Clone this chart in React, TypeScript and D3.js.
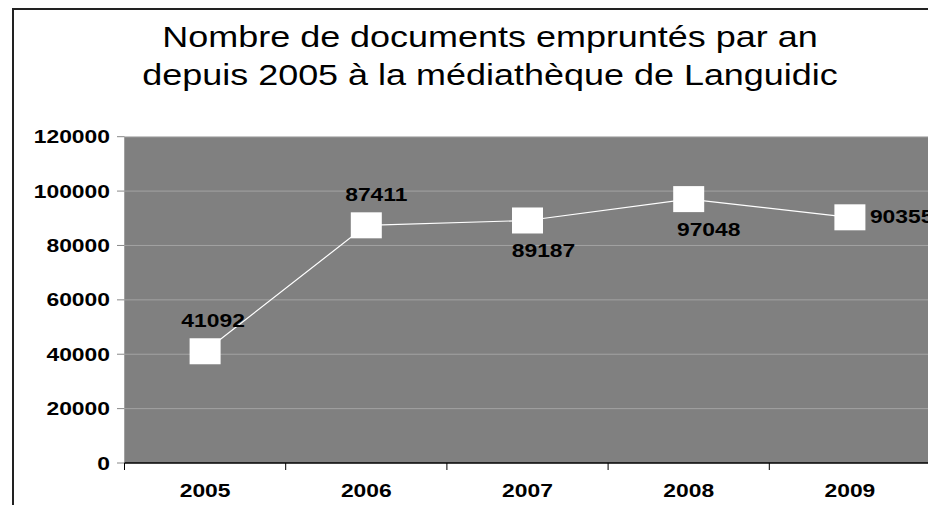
import React from "react";
import * as d3 from "d3";

const years = ["2005", "2006", "2007", "2008", "2009"];
const loans = [41092, 87411, 89187, 97048, 90355];
const yTicks = [0, 20000, 40000, 60000, 80000, 100000, 120000];
const labelPlacement = ["above", "above", "below", "below", "right"];
const labelShift = [8, 10, 16, 20, 0];
const titleLines = [
  "Nombre de documents empruntés par an",
  "depuis 2005 à la médiathèque de Languidic",
];

const W = 928;
const H = 505;
const FONT = "'Liberation Sans', Arial, sans-serif";
const SX = 1.27;

export default function App() {
  const left = 124.5;
  const right = left + 161.2 * years.length;
  const top = 136.7;
  const bottom = 463;

  const x = d3.scaleBand<string>().domain(years).range([left, right]).padding(0);
  const y = d3.scaleLinear().domain([0, 120000]).range([bottom, top]);
  const cx = (i: number) => (x(years[i]) as number) + x.bandwidth() / 2;

  const line = d3
    .line<number>()
    .x((_, i) => cx(i))
    .y((d) => y(d));

  const stretched = (
    tx: number,
    ty: number,
    txt: string,
    size: number,
    anchor: string,
    weight: string,
    sx: number = SX,
    key?: string
  ) => (
    <text
      key={key}
      transform={`translate(${tx},${ty}) scale(${sx},1)`}
      textAnchor={anchor as any}
      fontFamily={FONT}
      fontSize={size}
      fontWeight={weight}
      fill="#000"
    >
      {txt}
    </text>
  );

  return (
    <svg
      width={W}
      height={H}
      style={{ position: "absolute", left: 0, top: 0, background: "#fff" }}
    >
      <rect x={13} y={9} width={W} height={H} fill="#fff" stroke="#222" strokeWidth={2} />
      {titleLines.map((t, i) =>
        stretched(490, 46.7 + i * 38.5, t, 29, "middle", "normal", 1.24, "t" + i)
      )}
      <defs>
        <clipPath id="clip">
          <rect x={0} y={0} width={W} height={H} />
        </clipPath>
      </defs>
      <rect x={left} y={top} width={right - left} height={bottom - top} fill="#808080" />
      {yTicks.map((t) => (
        <g key={t}>
          {t > 0 && (
            <line
              x1={left}
              x2={right}
              y1={y(t)}
              y2={y(t)}
              stroke={t === 120000 ? "#c4c4c4" : "#a2a2a2"}
              strokeWidth={1}
            />
          )}
          <line x1={117} x2={left} y1={y(t)} y2={y(t)} stroke="#888" strokeWidth={1} />
          {stretched(110, y(t) + 6.5, String(t), 18, "end", "bold", SX, "yl" + t)}
        </g>
      ))}
      <line x1={left} x2={left} y1={top} y2={bottom} stroke="#a0a0a0" strokeWidth={1} />
      <line x1={left} x2={right} y1={bottom} y2={bottom} stroke="#000" strokeWidth={1.5} />
      {d3.range(years.length + 1).map((i) => {
        const tx = left + x.step() * i;
        return <line key={"xt" + i} x1={tx} x2={tx} y1={bottom} y2={bottom + 7} stroke="#000" strokeWidth={1} />;
      })}
      {years.map((yr, i) => stretched(cx(i), 496.5, yr, 18, "middle", "bold", SX, "xl" + yr))}
      <path d={line(loans) || ""} fill="none" stroke="#fff" strokeWidth={1.2} />
      {loans.map((v, i) => (
        <rect key={"m" + i} x={cx(i) - 15.5} y={y(v) - 13} width={31} height={26} fill="#fff" />
      ))}
      {loans.map((v, i) => {
        const p = labelPlacement[i];
        if (p === "above") return stretched(cx(i) + labelShift[i], y(v) - 24.5, String(v), 18, "middle", "bold", SX, "dl" + i);
        if (p === "below") return stretched(cx(i) + labelShift[i], y(v) + 37, String(v), 18, "middle", "bold", SX, "dl" + i);
        return stretched(cx(i) + 20, y(v) + 6, String(v), 18, "start", "bold", SX, "dl" + i);
      })}
    </svg>
  );
}
